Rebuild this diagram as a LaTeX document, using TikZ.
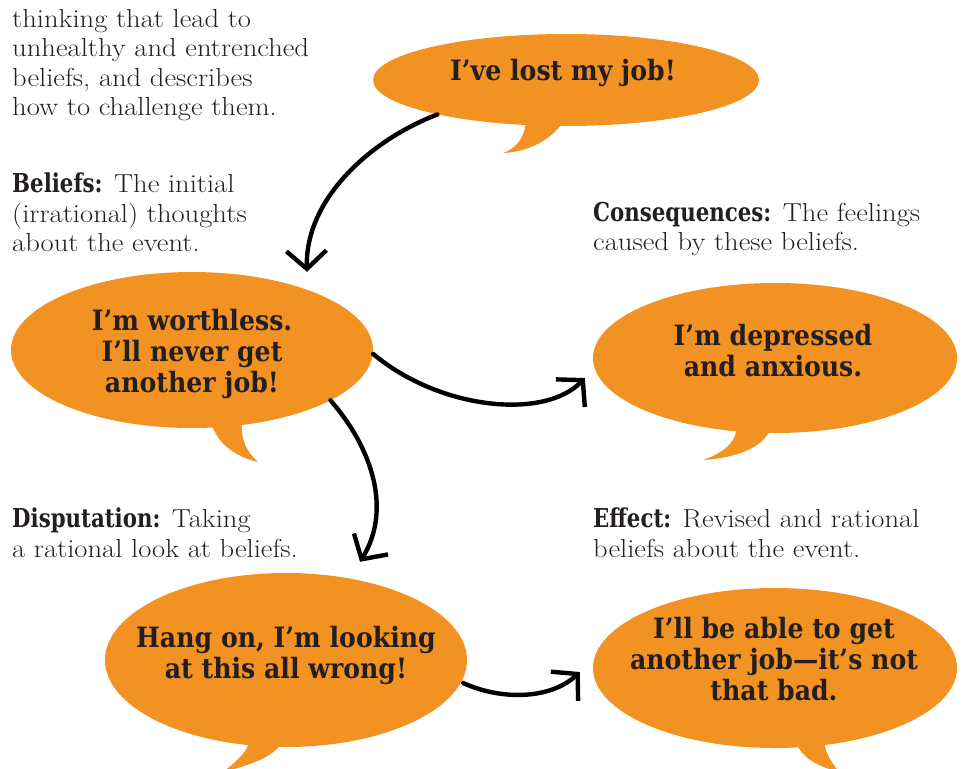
\documentclass[tikz,border=0pt]{standalone}
\usepackage{fontspec}
\usetikzlibrary{shapes.geometric,arrows.meta,calc}
\newfontfamily\bubblefont{DejaVu Serif}[FakeStretch=0.9]
\newfontfamily\labfont{DejaVu Serif}[FakeStretch=0.82]
\newfontfamily\bodyfont{Latin Modern Roman}[FakeStretch=1.1]
\definecolor{bubbleorange}{RGB}{241,146,34}
\definecolor{inkdark}{RGB}{35,31,32}
\tikzset{
  bubble/.style={ellipse, fill=bubbleorange, draw=none, inner sep=0pt},
  bubbletext/.style={align=center, text=inkdark, inner sep=0pt,
    font=\bubblefont\bfseries\fontsize{28}{31}\selectfont},
  caption/.style={align=left, text=inkdark, inner sep=0pt, anchor=north west,
    font=\bodyfont\fontsize{26}{29.5}\selectfont},
  flow/.style={draw=black, line width=4.4pt, line cap=round, line join=round,
    -{Straight Barb[length=18pt,width=40pt,line width=4.4pt]}},
}
\newcommand{\lab}[1]{{\labfont\bfseries #1}}
\begin{document}
\begin{tikzpicture}[x=1pt,y=-1pt]
\useasboundingbox (0,0) rectangle (963,768);

% bubbles
\node[bubble, minimum width=386, minimum height=92] (b1) at (566,80) {};
\node[bubble, minimum width=362, minimum height=156] (b2) at (192,350) {};
\node[bubble, minimum width=364, minimum height=150] (b3) at (775,358) {};
\node[bubble, minimum width=362, minimum height=174] (b4) at (286,660) {};
\node[bubble, minimum width=364, minimum height=160] (b5) at (775,668) {};

% tails
\begin{scope}[shift={(b1.center)}]
  \fill[bubbleorange] (-40,38) .. controls (-40,55) and (-48,68) .. (-63,73)
     .. controls (-40,72) and (-15,62) .. (0,38) -- cycle;
\end{scope}
\begin{scope}[shift={(b2.center)}]
  \fill[bubbleorange] (18,68) .. controls (22,90) and (40,106) .. (66,112)
     .. controls (55,102) and (48,90) .. (50,68) -- cycle;
\end{scope}
\begin{scope}[shift={(b3.center)}]
  \fill[bubbleorange] (-3,66) .. controls (-8,90) and (-40,100) .. (-72,102)
     .. controls (-52,95) and (-38,85) .. (-38,66) -- cycle;
\end{scope}
\begin{scope}[shift={(b4.center)}]
  \fill[bubbleorange] (-3,78) .. controls (-6,95) and (-35,105) .. (-63,112)
     .. controls (-48,100) and (-38,92) .. (-36,78) -- cycle;
\end{scope}
\begin{scope}[shift={(b5.center)}]
  \fill[bubbleorange] (20,72) .. controls (26,90) and (42,98) .. (64,104)
     .. controls (55,92) and (48,82) .. (50,70) -- cycle;
\end{scope}

% bubble texts
\node[bubbletext] (t1) at (563,73) {I’ve lost my job!};
\node[bubbletext] (t2) at (192,354) {I’m worthless.\\I’ll never get\\another job!};
\node[bubbletext] (t3) at (773,351) {I’m depressed\\and anxious.};
\node[bubbletext] (t4) at (286,655) {Hang on, I’m looking\\at this all wrong!};
\node[bubbletext] (t5) at (774,659) {I’ll be able to get\\another job—it’s not\\that bad.};

% captions
\node[caption] (c0) at (12,9) {thinking that lead to\\unhealthy and entrenched\\beliefs, and describes\\how to challenge them.};
\node[caption] (c1) at (12,173) {\lab{Beliefs:} The initial\\(irrational) thoughts\\about the event.};
\node[caption] (c2) at (593,202) {\lab{Consequences:} The feelings\\caused by these beliefs.};
\node[caption] (c3) at (12,508) {\lab{Disputation:} Taking\\a rational look at beliefs.};
\node[caption] (c4) at (593,508) {\lab{Effect:} Revised and rational\\beliefs about the event.};

% connectors
\draw[flow] (b1.195) .. controls +(-68,26) and +(-2,-72) .. ([xshift=115pt]b2.north);
\draw[flow] ([yshift=-4pt]b2.east) .. controls +(67,56) and +(-40,42) .. ([shift={(-8,20)}]b3.west);
\draw[flow] (b2.340) .. controls +(42,48) and +(32,-52) .. ([shift={(74,-11)}]b4.north);
\draw[flow] ([shift={(-4,23)}]b4.east) .. controls +(37,17) and +(-30,28) .. ([shift={(-13,4)}]b5.west);
\end{tikzpicture}
\end{document}
